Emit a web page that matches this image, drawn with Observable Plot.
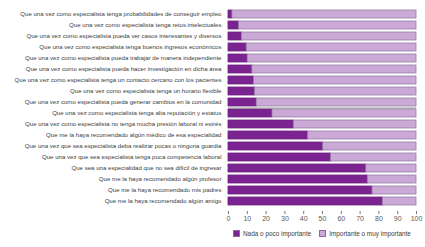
<!DOCTYPE html>
<html>
<head>
<meta charset="utf-8">
<script src="https://cdn.jsdelivr.net/npm/d3@7"></script>
<script src="https://cdn.jsdelivr.net/npm/@observablehq/plot@0.6"></script>
<style>
  html, body { margin: 0; padding: 0; background: #fff; }
  #chart { width: 425px; font-family: "Liberation Sans", Arial, sans-serif; }
  .legend { display: flex; align-items: center; margin-left: 233px; margin-top: 4px; font-size: 6.4px; color: #404040; height: 10px; white-space: nowrap; width: 190px; }
  .sw { width: 5px; height: 5px; border: 0.8px solid #8a6a98; margin-right: 3px; flex: none; }
  .item { display: flex; align-items: center; margin-right: 8px; flex: none; }
</style>
</head>
<body>
<div id="chart"></div>
<script>
const categories = [
  "Que una vez como especialista tenga probabilidades de conseguir empleo",
  "Que una vez como especialista tenga retos intelectuales",
  "Que una vez como especialista pueda ver casos interesantes y diversos",
  "Que una vez como especialista tenga buenos ingresos económicos",
  "Que una vez como especialista pueda trabajar de manera independiente",
  "Que una vez como especialista pueda hacer investigación en dicha área",
  "Que una vez como especialista tenga un contacto cercano con los pacientes",
  "Que una vez como especialista tenga un horario flexible",
  "Que una vez como especialista pueda generar cambios en la comunidad",
  "Que una vez como especialista tenga alta reputación y estatus",
  "Que una vez como especialista no tenga mucha presión laboral ni estrés",
  "Que me la haya recomendado algún médico de esa especialidad",
  "Que una vez que sea especialista deba realizar pocas o ninguna guardia",
  "Que una vez que sea especialista tenga poca competencia laboral",
  "Que sea una especialidad que no sea difícil de ingresar",
  "Que me la haya recomendado algún profesor",
  "Que me la haya recomendado mis padres",
  "Que me la haya recomendado algún amigo"
];
const nadaValues = [2.1, 5.6, 7.1, 9.7, 10.2, 12.7, 13.6, 14.1, 15.0, 23.4, 34.8, 42.3, 50.4, 54.5, 73.3, 74.1, 76.6, 82.1];
const importanteValues = [97.9, 94.4, 92.9, 90.3, 89.8, 87.3, 86.4, 85.9, 85.0, 76.6, 65.2, 57.7, 49.6, 45.5, 26.7, 25.9, 23.4, 17.9];
const seriesNames = ["Nada o poco importante", "Importante o muy importante"];
const seriesColors = ["#7b2390", "#caa9d7"];
const xTicks = [0, 10, 20, 30, 40, 50, 60, 70, 80, 90, 100];

const rows = [];
categories.forEach((c, i) => rows.push({cat: c, serie: seriesNames[0], value: nadaValues[i]}));
categories.forEach((c, i) => rows.push({cat: c, serie: seriesNames[1], value: importanteValues[i]}));

const plot = Plot.plot({
  width: 425,
  height: 224,
  marginLeft: 228,
  marginRight: 9,
  marginTop: 4,
  marginBottom: 13,
  style: {fontFamily: "Liberation Sans, Arial, sans-serif", fontSize: "6.1px", color: "#404040", background: "#fff"},
  x: {domain: [0, 100], ticks: xTicks, label: null},
  y: {domain: categories, label: null, paddingInner: 0.3, paddingOuter: 0.15},
  color: {domain: seriesNames, range: seriesColors},
  marks: [
    Plot.barX(rows, Plot.stackX({y: "cat", x: "value", fill: "serie", order: null,
      stroke: d => d.serie === seriesNames[0] ? "#6e1f82" : "#9a7ea8", strokeWidth: 0.8})),
    Plot.axisY({tickSize: 0, tickPadding: 7, fontSize: 6.1, fill: "#404040"}),
    Plot.axisX({ticks: xTicks, tickSize: 3, tickPadding: 2, fontSize: 7, fill: "#595959", stroke: "#777", label: null}),
    Plot.ruleY([0], {y: null, x1: 0, x2: 100, frameAnchor: "bottom", stroke: "#777", strokeWidth: 0.8})
  ]
});
document.getElementById("chart").appendChild(plot);

const legend = document.createElement("div");
legend.className = "legend";
seriesNames.forEach((s, i) => {
  const item = document.createElement("div");
  item.className = "item";
  const sw = document.createElement("div");
  sw.className = "sw";
  sw.style.background = seriesColors[i];
  item.appendChild(sw);
  const t = document.createElement("span");
  t.textContent = s;
  item.appendChild(t);
  legend.appendChild(item);
});
document.getElementById("chart").appendChild(legend);
</script>
</body>
</html>
